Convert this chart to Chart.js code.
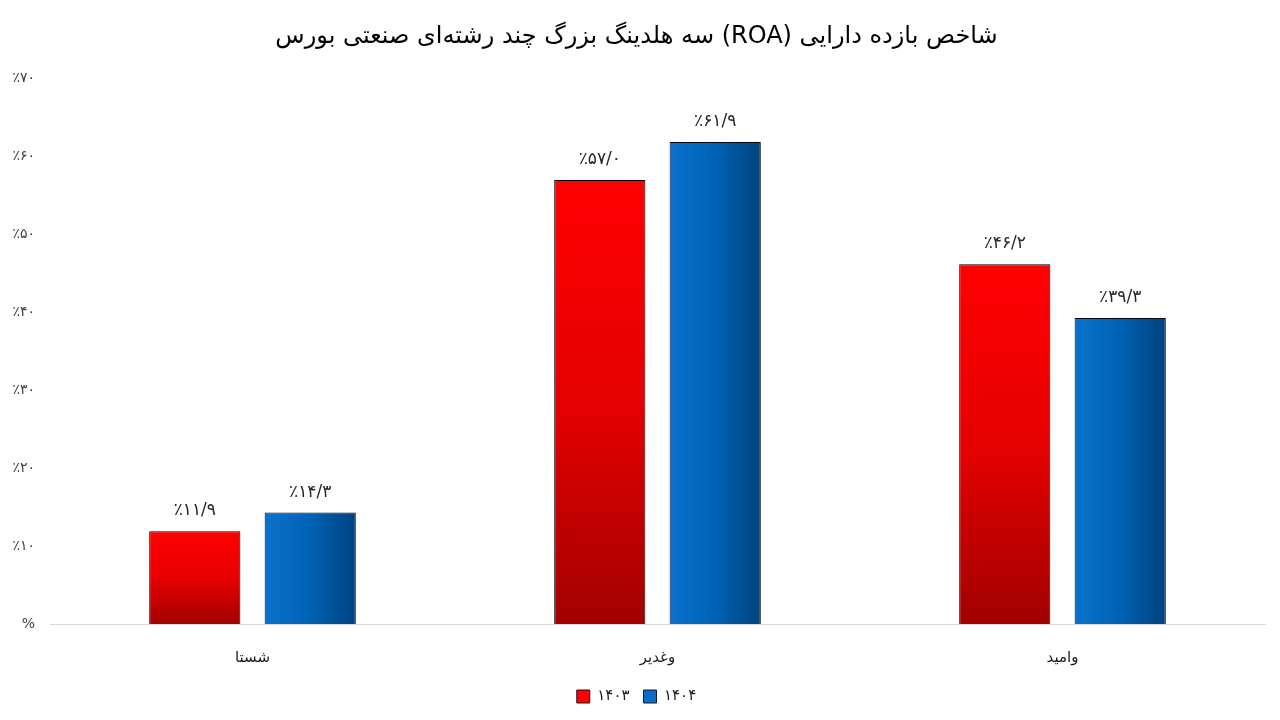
<!DOCTYPE html>
<html>
<head>
<meta charset="utf-8">
<script src="https://cdn.jsdelivr.net/npm/chart.js@4"></script>
<style>
  html, body { margin: 0; padding: 0; background: #fff; }
  #wrap { width: 1280px; height: 720px; }
</style>
</head>
<body>
<div id="wrap"><canvas id="roa"></canvas></div>
<script>
const companies = ['شستا', 'وغدیر', 'وامید']
const years = ['۱۴۰۳', '۱۴۰۴']
const roa1403 = [11.9, 57.0, 46.2]
const roa1404 = [14.3, 61.9, 39.3]
const yTicks = [0, 10, 20, 30, 40, 50, 60, 70]

const chartTitle = '\u202Bشاخص بازده دارایی (ROA) سه هلدینگ بزرگ چند رشته\u200Cای صنعتی بورس\u202C'
const faFont = "'DejaVu Sans', 'Noto Sans', sans-serif"
const catPct = 0.57
const barPct = 0.79

function toFa(str) {
    return String(str).replace(/[0-9]/g, d => '۰۱۲۳۴۵۶۷۸۹'[d]).replace('.', '/')
}

// per-bar gradients built from the chart's own scales
function barFill(dsIndex) {
    return function(context) {
        const solid = dsIndex === 0 ? '#ff0000' : '#0a6ec8'
        if (context.type !== 'data') return solid
        const chart = context.chart
        const x = chart.scales.x
        const y = chart.scales.y
        if (!x || !y || !chart.chartArea) return solid
        const ctx = chart.ctx
        if (dsIndex === 0) {
            const top = y.getPixelForValue(context.raw)
            const bottom = y.getPixelForValue(0)
            const g = ctx.createLinearGradient(0, top, 0, bottom)
            g.addColorStop(0, '#ff0000')
            g.addColorStop(0.5, '#e60000')
            g.addColorStop(1, '#a20000')
            return g
        }
        const slot = x.width / companies.length * catPct / 2
        const center = x.getPixelForValue(context.dataIndex) + slot / 2
        const half = slot * barPct / 2
        const g = ctx.createLinearGradient(center - half, 0, center + half, 0)
        g.addColorStop(0, '#0a72cc')
        g.addColorStop(0.5, '#0062b4')
        g.addColorStop(1, '#00427f')
        return g
    }
}

const valueLabels = {
    id: 'valueLabels',
    afterDatasetsDraw(chart) {
        const ctx = chart.ctx
        ctx.save()
        ctx.font = '17px ' + faFont
        ctx.fillStyle = '#262626'
        ctx.textAlign = 'center'
        ctx.textBaseline = 'bottom'
        chart.data.datasets.forEach((ds, i) => {
            chart.getDatasetMeta(i).data.forEach((bar, j) => {
                ctx.fillText('٪' + toFa(ds.data[j].toFixed(1)), bar.x, bar.y - 12)
            })
        })
        ctx.restore()
    }
}

const legendColors = ['#ff0000', '#0a6ec8']

new Chart(document.getElementById('roa'), {
    type: 'bar',
    data: {
        labels: companies,
        datasets: [{
            label: years[0],
            data: roa1403,
            backgroundColor: barFill(0),
            borderColor: '#000000',
            borderWidth: 1,
            categoryPercentage: catPct,
            barPercentage: barPct
        }, {
            label: years[1],
            data: roa1404,
            backgroundColor: barFill(1),
            borderColor: '#000814',
            borderWidth: 1,
            categoryPercentage: catPct,
            barPercentage: barPct
        }]
    },
    plugins: [valueLabels],
    options: {
        responsive: true,
        maintainAspectRatio: false,
        animation: false,
        layout: { padding: { left: 8, right: 15, top: 6, bottom: 6 } },
        scales: {
            x: {
                afterFit: scale => { scale.height = 51 },
                grid: { display: false },
                border: { display: true, color: '#d9d9d9' },
                ticks: { color: '#1a1a1a', font: { family: faFont, size: 15 }, padding: 17 }
            },
            y: {
                min: 0,
                max: 70,
                afterBuildTicks: scale => { scale.ticks = yTicks.map(v => ({ value: v })) },
                afterFit: scale => { scale.width = 42 },
                grid: { display: false, drawTicks: false },
                border: { display: false },
                ticks: {
                    color: '#404040',
                    padding: 15,
                    font: { family: faFont, size: 14 },
                    callback: v => v === 0 ? '%' : '٪' + toFa(v)
                }
            }
        },
        plugins: {
            title: {
                display: true,
                text: chartTitle,
                color: '#000',
                font: { family: faFont, size: 24, weight: 'normal' },
                padding: { top: 16, bottom: 28 }
            },
            legend: {
                position: 'bottom',
                labels: {
                    color: '#1a1a1a',
                    boxWidth: 13,
                    boxHeight: 13,
                    padding: 14,
                    font: { family: faFont, size: 15 },
                    generateLabels: chart => Chart.defaults.plugins.legend.labels.generateLabels(chart).map((item, i) => {
                        item.fillStyle = legendColors[i]
                        item.strokeStyle = '#1a1a1a'
                        item.lineWidth = 1
                        return item
                    })
                }
            },
            tooltip: { enabled: false }
        }
    }
})
</script>
</body>
</html>
